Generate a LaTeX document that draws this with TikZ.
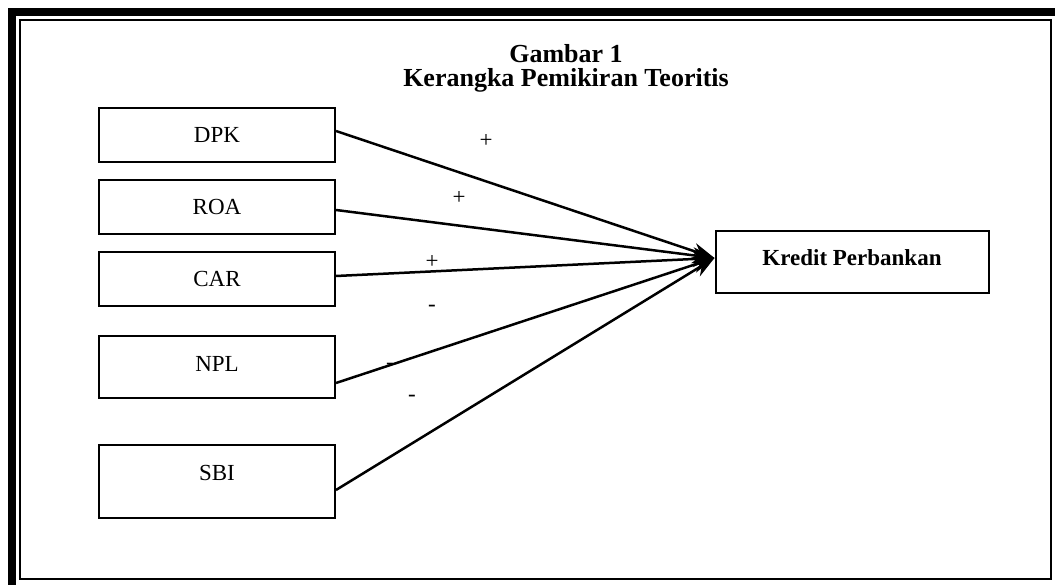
\documentclass[tikz,border=0pt]{standalone}
\usepackage{fontspec}
\setmainfont{Liberation Serif}
\usetikzlibrary{arrows.meta}

\tikzset{
    varbox/.style={draw, line width=2pt, minimum width=236pt, minimum height=54pt, inner sep=0pt},
    link/.style={line width=2.5pt, -{Stealth[length=22pt,width=16pt]}},
    sign/.style={inner sep=0pt}
}

\begin{document}
\begin{tikzpicture}[x=1pt, y=-1pt, font=\fontsize{23}{27}\selectfont]
    \clip (0,0) rectangle (1055,585);
    \useasboundingbox (0,0) rectangle (1055,585);
    % page border
    \draw[line width=8pt] (12,12) rectangle (1064,592);
    \draw[line width=2.5pt] (20,20) rectangle (1051,579);
    % title
    \node[font=\fontsize{26}{24}\selectfont\bfseries, align=center] (title) at (566,68) {Gambar 1\\Kerangka Pemikiran Teoritis};
    % variables
    \node[varbox] (dpk) at (217,135) {DPK};
    \node[varbox] (roa) at (217,207) {ROA};
    \node[varbox] (car) at (217,279) {CAR};
    \node[varbox, minimum height=61pt] (npl) at (217,367) {\raisebox{7pt}{NPL}};
    \node[varbox, minimum height=73pt] (sbi) at (217,481) {\raisebox{16pt}{SBI}};
    \node[draw, line width=2pt, minimum width=273pt, minimum height=62pt, inner sep=0pt,
          font=\fontsize{23}{27}\selectfont\bfseries] (kredit) at (852,262) {\raisebox{8pt}{Kredit Perbankan}};
    \coordinate (tip) at ([yshift=4pt]kredit.west);
    % connectors
    \draw[link] ([yshift=4pt]dpk.east) -- (tip);
    \draw[link] ([yshift=-3pt]roa.east) -- (tip);
    \draw[link] ([yshift=3pt]car.east) -- (tip);
    \draw[link] ([yshift=-16pt]npl.east) -- (tip);
    \draw[link] ([yshift=-9pt]sbi.east) -- (tip);
    % signs
    \node[sign] (s1) at (486,141) {+};
    \node[sign] (s2) at (459,198) {+};
    \node[sign] (s3) at (432,262) {+};
    \node[sign] (s4) at (432,308) {-};
    \node[sign] (s5) at (390,366) {-};
    \node[sign] (s6) at (412,398) {-};
\end{tikzpicture}
\end{document}
